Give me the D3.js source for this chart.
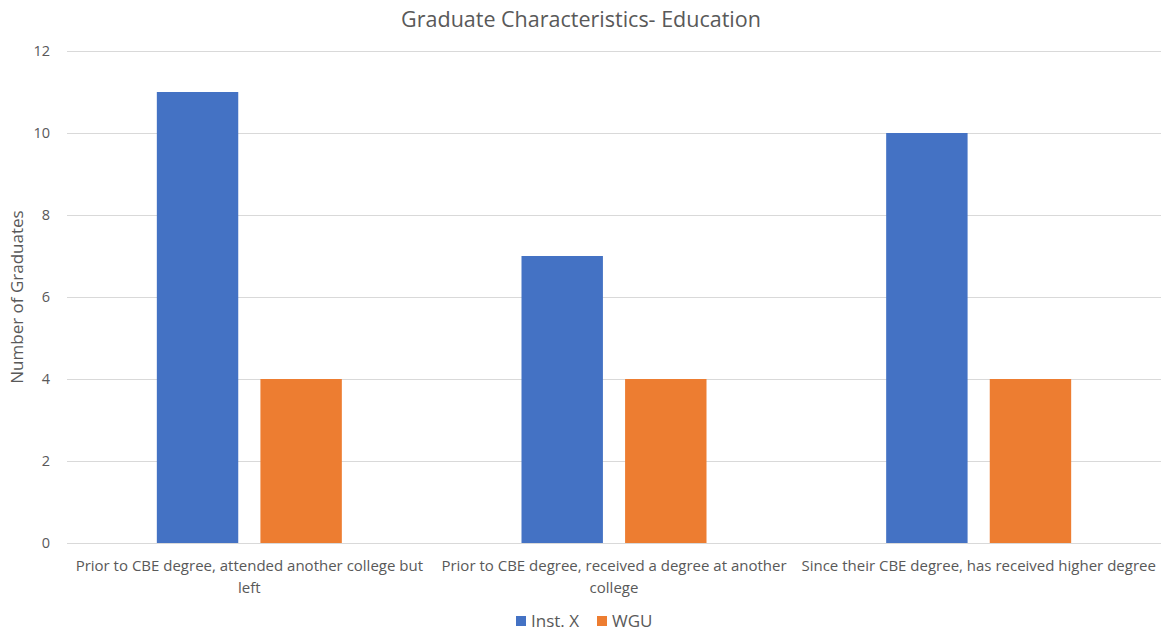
<!DOCTYPE html>
<html>
<head>
<meta charset="utf-8">
<script src="https://cdn.jsdelivr.net/npm/d3@7"></script>
<style>
  body { margin: 0; background: #fff; }
  text { font-family: "Open Sans", "Noto Sans", sans-serif; fill: #595959; }
</style>
</head>
<body>
<svg id="chart" width="1161" height="631"></svg>
<script>
// chart data
var categories = [
    "Prior to CBE degree, attended another college but left",
    "Prior to CBE degree, received a degree at another college",
    "Since their CBE degree, has received higher degree"
];
var seriesNames = ["Inst. X", "WGU"];
var instX = [11, 7, 10];
var wgu = [4, 4, 4];
var yTicks = [0, 2, 4, 6, 8, 10, 12];
var colors = ["#4472C4", "#ED7D31"];

var svg = d3.select("#chart");
var margin = {left: 67, right: 0, top: 51, bottom: 88};
var width = 1161, height = 631;

var x0 = d3.scaleBand()
    .domain(categories)
    .range([margin.left, width - margin.right])
    .padding(0);

var y = d3.scaleLinear()
    .domain([0, 12])
    .range([height - margin.bottom, margin.top]);

// inner scale for the two series inside each category
var groupWidth = 185;
var x1 = d3.scaleBand()
    .domain(seriesNames)
    .range([(x0.bandwidth() - groupWidth) / 2, (x0.bandwidth() + groupWidth) / 2])
    .paddingInner(0.214);

// gridlines
svg.append("g")
    .selectAll("line")
    .data(yTicks)
    .join("line")
    .attr("x1", margin.left)
    .attr("x2", width - margin.right)
    .attr("y1", d => y(d) + 0.5)
    .attr("y2", d => y(d) + 0.5)
    .attr("stroke", "#d9d9d9")
    .attr("stroke-width", 1);

// y tick labels
svg.append("g")
    .selectAll("text")
    .data(yTicks)
    .join("text")
    .attr("x", 50)
    .attr("y", d => y(d))
    .attr("dy", "0.35em")
    .attr("text-anchor", "end")
    .style("font-size", "14.5px")
    .text(d => d);

// bars
var rows = categories.map(function(c, i) {
    return {cat: c, values: [instX[i], wgu[i]]};
});

var groups = svg.append("g")
    .selectAll("g")
    .data(rows)
    .join("g")
    .attr("transform", d => "translate(" + x0(d.cat) + ",0)");

groups.selectAll("rect")
    .data(d => d.values.map((v, j) => ({name: seriesNames[j], value: v, j: j})))
    .join("rect")
    .attr("x", d => x1(d.name))
    .attr("width", x1.bandwidth())
    .attr("y", d => y(d.value))
    .attr("height", d => y(0) - y(d.value))
    .attr("fill", d => colors[d.j]);

// category labels, wrapped to band width
function wrap(text, w) {
    text.each(function() {
        var t = d3.select(this);
        var words = t.text().split(/\s+/);
        var line = [];
        var cx = t.attr("x");
        t.text(null);
        var tspan = t.append("tspan").attr("x", cx).attr("dy", 0);
        words.forEach(function(word) {
            line.push(word);
            tspan.text(line.join(" "));
            if (tspan.node().getComputedTextLength() > w && line.length > 1) {
                line.pop();
                tspan.text(line.join(" "));
                line = [word];
                tspan = t.append("tspan").attr("x", cx).attr("dy", "22px").text(word);
            }
        });
    });
}

svg.append("g")
    .selectAll("text")
    .data(categories)
    .join("text")
    .attr("x", d => x0(d) + x0.bandwidth() / 2)
    .attr("y", 571)
    .attr("text-anchor", "middle")
    .style("font-size", "15px")
    .text(d => d)
    .call(wrap, x0.bandwidth() - 2);

// title
svg.append("text")
    .attr("x", 581)
    .attr("y", 27)
    .attr("text-anchor", "middle")
    .style("font-size", "21.5px")
    .text("Graduate Characteristics- Education");

// y axis title
svg.append("text")
    .attr("transform", "translate(23," + y(6) + ") rotate(-90)")
    .attr("text-anchor", "middle")
    .style("font-size", "17px")
    .text("Number of Graduates");

// legend
var legend = svg.append("g").attr("transform", "translate(516,621)");
var legendX = [0, 81];
seriesNames.forEach(function(name, i) {
    var g = legend.append("g").attr("transform", "translate(" + legendX[i] + ",0)");
    g.append("rect")
        .attr("x", 0).attr("y", -5)
        .attr("width", 10).attr("height", 10)
        .attr("fill", colors[i]);
    g.append("text")
        .attr("x", 15).attr("y", 0)
        .attr("dy", "0.35em")
        .style("font-size", "17px")
        .text(name);
});
</script>
</body>
</html>
